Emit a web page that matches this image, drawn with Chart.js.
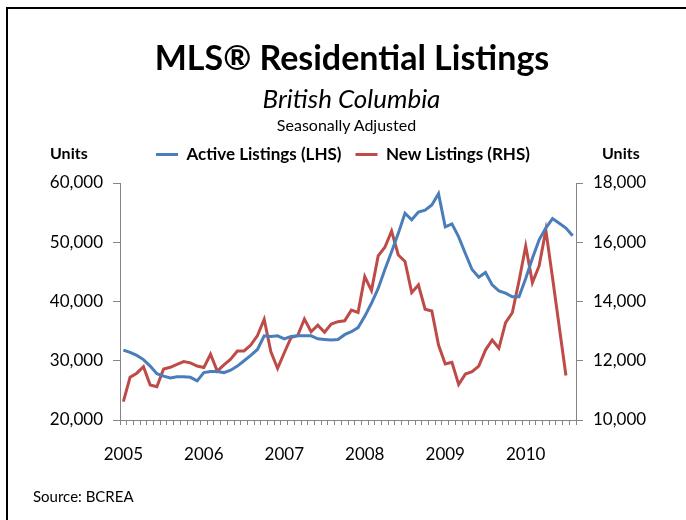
<!DOCTYPE html>
<html lang="en">
<head>
    <meta charset="UTF-8">
    <title>MLS Residential Listings</title>
    <style>
        body {
            margin: 0;
            padding: 0;
            width: 686px;
            height: 520px;
            overflow: hidden;
            background: #fff;
            font-family: 'Lato', sans-serif;
            position: relative;
        }

        .frame {
            position: absolute;
            left: 6px;
            top: 7px;
            width: 800px;
            height: 700px;
            border: 2px solid #000;
        }

        .chart-box {
            position: absolute;
            left: 0;
            top: 0;
            width: 686px;
            height: 520px;
        }

        .txt {
            position: absolute;
            color: #000;
            white-space: nowrap;
        }

        .title {
            left: 0;
            width: 704px;
            text-align: center;
            top: 36px;
            font-size: 34px;
            font-weight: bold;
        }

        .subtitle {
            left: 0;
            width: 703px;
            text-align: center;
            top: 82px;
            font-size: 26px;
            font-style: italic;
        }

        .note {
            left: 0;
            width: 693px;
            text-align: center;
            top: 115px;
            font-size: 16px;
        }

        .units {
            top: 143px;
            font-size: 16px;
            font-weight: bold;
        }

        .source {
            left: 33px;
            top: 487px;
            font-size: 15px;
        }
    </style>
</head>
<body>
    <div class="frame"></div>
    <div class="chart-box">
        <canvas id="chart" width="686" height="520"></canvas>
    </div>
    <div class="txt title">MLS® Residential Listings</div>
    <div class="txt subtitle">British Columbia</div>
    <div class="txt note">Seasonally Adjusted</div>
    <div class="txt units" style="left: 50px;">Units</div>
    <div class="txt units" style="left: 602px;">Units</div>
    <div class="txt source">Source: BCREA</div>

    <script src="https://cdn.jsdelivr.net/npm/chart.js"></script>
    <script>
        // years shown on the x axis, one label per January
        const years = ['2005', '2006', '2007', '2008', '2009', '2010'];
        const monthCount = 68; // Jan 2005 - Aug 2010

        // Active listings, left axis (units)
        const activeListings = [
            31800, 31400, 30900, 30200, 29100, 27800, 27400, 27100, 27300, 27300, 27200, 26600,
            28000, 28200, 28200, 28000, 28400, 29100, 30000, 30900, 31900, 34200, 34100, 34200,
            33700, 34100, 34200, 34200, 34200, 33700, 33600, 33500, 33600, 34400, 34900, 35600,
            37500, 39700, 42200, 45400, 48400, 51500, 54900, 53800, 55100, 55400, 56300, 58200,
            52600, 53100, 50900, 48100, 45400, 44100, 44900, 42800, 41800, 41400, 40800, 40800,
            43900, 47300, 50400, 52400, 54000, 53200, 52400, 51100
        ];

        // New listings, right axis (units) - one month shorter
        const newListings = [
            10620, 11440, 11580, 11800, 11180, 11120, 11720, 11780, 11880, 11970, 11930, 11820,
            11770, 12220, 11650, 11860, 12050, 12330, 12330, 12530, 12850, 13400, 12300, 11740,
            12270, 12780, 12850, 13410, 12980, 13200, 12960, 13240, 13320, 13350, 13710, 13630,
            14840, 14370, 15540, 15830, 16380, 15570, 15350, 14300, 14560, 13740, 13680, 12530,
            11890, 11950, 11200, 11550, 11630, 11820, 12360, 12700, 12420, 13290, 13620, 14690,
            15870, 14640, 15200, 16410, 14800, 13150, 11500
        ];

        const leftTicks = [20000, 30000, 40000, 50000, 60000];
        const rightTicks = [10000, 12000, 14000, 16000, 18000];

        const months = [];
        for (let i = 0; i < monthCount; i++) {
            months.push(years[0] * 1 + Math.floor(i / 12) + '-' + (i % 12 + 1));
        }

        const axisGray = '#868686';
        const tickFont = { family: 'Lato', size: 17 };
        const fmt = v => v.toLocaleString('en-US');

        // make the legend block a fixed height so the plot starts where it should
        const legendHeight = {
            id: 'legendHeight',
            beforeInit(chart) {
                const fit = chart.legend.fit;
                chart.legend.fit = function () {
                    fit.bind(chart.legend)();
                    this.height = 51;
                };
            }
        };

        new Chart(document.getElementById('chart'), {
            type: 'line',
            data: {
                labels: months,
                datasets: [
                    {
                        label: 'Active Listings (LHS)',
                        data: activeListings,
                        borderColor: '#4a7ebb',
                        backgroundColor: '#4a7ebb',
                        borderWidth: 3,
                        pointRadius: 0,
                        yAxisID: 'y'
                    },
                    {
                        label: 'New Listings (RHS)',
                        data: newListings,
                        borderColor: '#be4b48',
                        backgroundColor: '#be4b48',
                        borderWidth: 3,
                        pointRadius: 0,
                        yAxisID: 'y1'
                    }
                ]
            },
            options: {
                responsive: false,
                animation: false,
                layout: { padding: { top: 132, left: 0, right: 0, bottom: 0 } },
                plugins: {
                    legend: {
                        position: 'top',
                        labels: {
                            usePointStyle: true,
                            pointStyle: 'line',
                            pointStyleWidth: 22,
                            color: '#000',
                            padding: 14,
                            font: { family: 'Lato', size: 17, weight: 'bold' }
                        }
                    },
                    tooltip: { enabled: false }
                },
                scales: {
                    x: {
                        offset: true,
                        grid: {
                            offset: true,
                            drawOnChartArea: false,
                            drawTicks: true,
                            tickLength: 5,
                            color: axisGray
                        },
                        border: { color: axisGray },
                        ticks: {
                            autoSkip: false,
                            maxRotation: 0,
                            color: '#000',
                            font: tickFont,
                            padding: 19,
                            callback: (v, i) => (i % 12 === 0 ? years[i / 12] : '')
                        },
                        afterFit: s => { s.height = 100; }
                    },
                    y: {
                        position: 'left',
                        min: leftTicks[0],
                        max: leftTicks[leftTicks.length - 1],
                        afterBuildTicks: s => { s.ticks = leftTicks.map(v => ({ value: v })); },
                        grid: { drawOnChartArea: false, tickLength: 7, color: axisGray },
                        border: { color: axisGray },
                        ticks: { color: '#000', font: tickFont, padding: 10, callback: fmt },
                        afterFit: s => { s.width = 120; }
                    },
                    y1: {
                        position: 'right',
                        min: rightTicks[0],
                        max: rightTicks[rightTicks.length - 1],
                        afterBuildTicks: s => { s.ticks = rightTicks.map(v => ({ value: v })); },
                        grid: { drawOnChartArea: false, tickLength: 7, color: axisGray },
                        border: { color: axisGray },
                        ticks: { color: '#000', font: tickFont, padding: 10, callback: fmt },
                        afterFit: s => { s.width = 110; }
                    }
                }
            },
            plugins: [legendHeight]
        });
    </script>
</body>
</html>
